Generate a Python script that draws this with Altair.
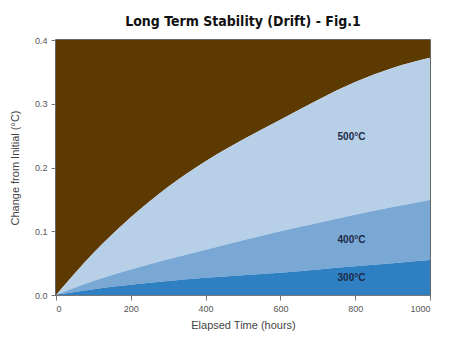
import altair as alt
import pandas as pd

hours = [0, 100, 200, 300, 400, 500, 600, 700, 800, 900, 1000]
drift_300 = [0.0, 0.009, 0.016, 0.022, 0.027, 0.031, 0.035, 0.040, 0.045, 0.050, 0.055]
drift_400 = [0.0, 0.022, 0.040, 0.056, 0.071, 0.086, 0.100, 0.113, 0.126, 0.138, 0.149]
drift_500 = [0.0, 0.066, 0.122, 0.170, 0.210, 0.244, 0.275, 0.306, 0.334, 0.356, 0.372]
y_top = 0.4

band_names = ["above", "500°C", "400°C", "300°C"]
band_colors = ["#5c3a02", "#b8cfe8", "#7aa8d4", "#2f80c2"]

labels = ["500°C", "400°C", "300°C"]
label_x = [790, 790, 790]
label_y = [0.248, 0.086, 0.027]

rows = []
for i, h in enumerate(hours):
    rows.append({"h": h, "band": "above", "lo": drift_500[i], "hi": y_top})
    rows.append({"h": h, "band": "500°C", "lo": drift_400[i], "hi": drift_500[i]})
    rows.append({"h": h, "band": "400°C", "lo": drift_300[i], "hi": drift_400[i]})
    rows.append({"h": h, "band": "300°C", "lo": 0.0, "hi": drift_300[i]})
df = pd.DataFrame(rows)
lab = pd.DataFrame({"h": label_x, "y": label_y, "t": labels})

x_enc = alt.X("h:Q", scale=alt.Scale(domain=[0, 1000], nice=False),
              axis=alt.Axis(title="Elapsed Time (hours)",
                            values=list(range(0, 1001, 100)),
                            labelExpr="datum.value % 200 == 0 ? datum.label : ''",
                            format="d"))
y_enc = alt.Y("lo:Q", scale=alt.Scale(domain=[0, 0.4], nice=False),
              axis=alt.Axis(title="Change from Initial (°C)",
                            values=[i * 0.05 for i in range(9)],
                            labelExpr="round(datum.value*100) % 10 == 0 ? format(datum.value, '.1f') : ''"))

areas = alt.Chart(df).mark_area(interpolate="monotone", opacity=1).encode(
    x=x_enc,
    y=y_enc,
    y2="hi:Q",
    color=alt.Color("band:N", scale=alt.Scale(domain=band_names, range=band_colors), legend=None),
    detail="band:N",
)

text = alt.Chart(lab).mark_text(fontSize=10, fontWeight="bold", color="#1c2a48",
                                font="Liberation Sans").encode(
    x="h:Q", y="y:Q", text="t:N")

chart = (areas + text).properties(
    width=374, height=255,
    title=alt.TitleParams("Long Term Stability (Drift) - Fig.1",
                          font="DejaVu Sans Condensed, Liberation Sans Narrow",
                          fontSize=14, fontWeight="bold", color="#111", offset=7),
    autosize=alt.AutoSizeParams(type="none"),
    padding={"left": 48, "top": 32, "right": 17, "bottom": 43},
    background="white",
).configure_view(stroke="#333", strokeWidth=1.5).configure_axis(
    labelFont="Liberation Sans", labelFontSize=9, labelColor="#555",
    titleFont="Liberation Sans", titleFontSize=11, titleColor="#444", titleFontWeight="normal",
    domainColor="#777", tickColor="#777", tickSize=5, grid=False, labelPadding=4,
).configure_axisY(titlePadding=14).configure_axisX(titlePadding=6)

chart.save("out.html", embed_options={"renderer": "svg", "actions": False})
